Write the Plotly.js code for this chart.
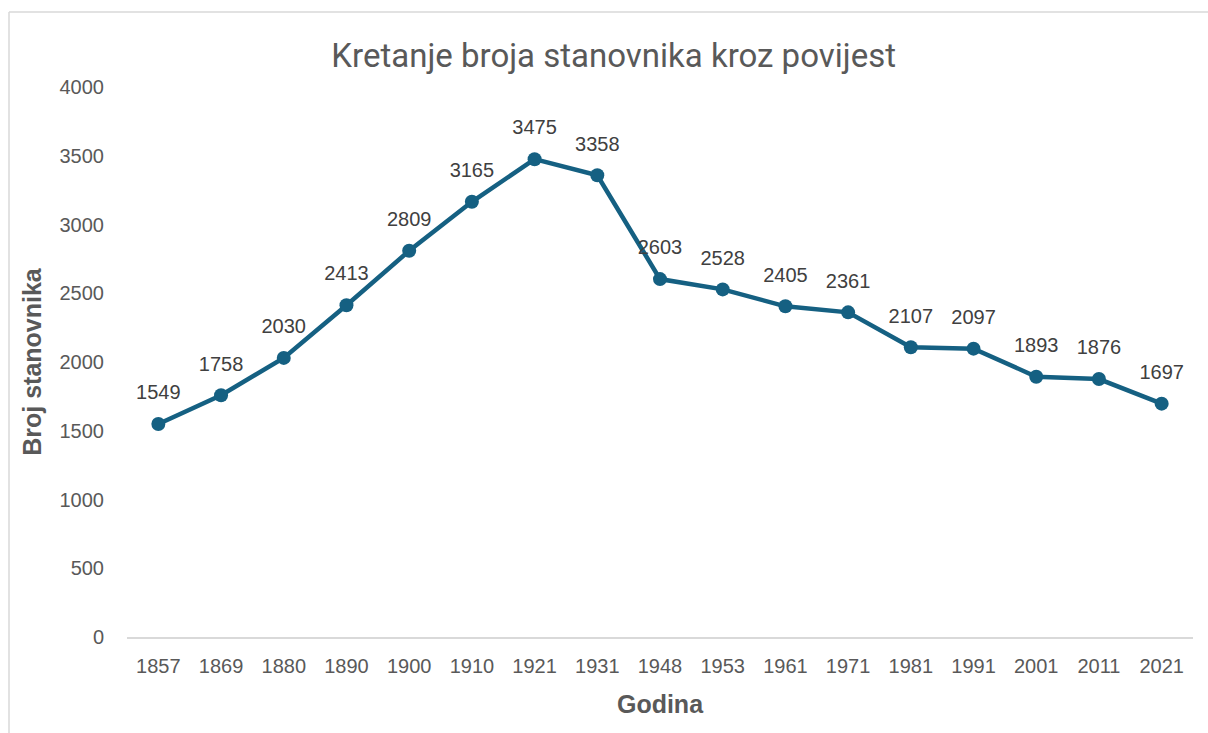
<!DOCTYPE html>
<html>
<head>
<meta charset="utf-8">
<script src="https://cdn.plot.ly/plotly-3.0.1.min.js"></script>
<style>html,body{margin:0;padding:0;background:#fff;}#chart{width:1208px;height:733px;}</style>
</head>
<body>
<div id="chart"></div>
<script>
const years = ["1857","1869","1880","1890","1900","1910","1921","1931","1948","1953","1961","1971","1981","1991","2001","2011","2021"];
const population = [1549,1758,2030,2413,2809,3165,3475,3358,2603,2528,2405,2361,2107,2097,1893,1876,1697];
const yTicks = [0,500,1000,1500,2000,2500,3000,3500,4000];

const lineTrace = {
  x: years,
  y: population,
  type: 'scatter',
  mode: 'lines+markers',
  line: {color: '#156082', width: 4.5},
  marker: {color: '#156082', size: 14},
  hoverinfo: 'x+y'
};

const labelTrace = {
  x: years,
  y: population,
  type: 'scatter',
  mode: 'markers+text',
  text: population.map(String),
  textposition: 'top center',
  textfont: {family: 'Liberation Sans, Arial, sans-serif', size: 20, color: '#404040'},
  marker: {color: 'rgba(0,0,0,0)', size: 30},
  cliponaxis: false,
  hoverinfo: 'skip'
};

const layout = {
  width: 1208, height: 733,
  margin: {l: 127, r: 15, t: 87, b: 96},
  paper_bgcolor: '#ffffff',
  plot_bgcolor: '#ffffff',
  showlegend: false,
  title: {
    text: 'Kretanje broja stanovnika kroz povijest',
    font: {family: 'Roboto, sans-serif', size: 33, color: '#595959'},
    x: 0.508, xanchor: 'center', y: 0.925, yanchor: 'middle'
  },
  xaxis: {
    type: 'category',
    range: [-0.5, 16.5],
    showgrid: false,
    zeroline: false,
    showline: true,
    linecolor: '#d9d9d9',
    linewidth: 1.5,
    ticks: '',
    tickfont: {family: 'Liberation Sans, Arial, sans-serif', size: 20, color: '#595959'},
    ticklabelstandoff: 10,
    title: {text: 'Godina', font: {family: 'Liberation Sans, Arial, sans-serif', size: 25, color: '#595959', weight: 'bold'}, standoff: 20}
  },
  yaxis: {
    range: [0, 4000],
    tickvals: yTicks,
    ticktext: yTicks.map(String),
    showgrid: false,
    zeroline: false,
    showline: false,
    ticks: '',
    tickfont: {family: 'Liberation Sans, Arial, sans-serif', size: 20, color: '#595959'},
    ticklabelstandoff: 22,
    title: {text: 'Broj stanovnika', font: {family: 'Liberation Sans, Arial, sans-serif', size: 25, color: '#595959', weight: 'bold'}, standoff: 10}
  },
  shapes: [
    {type: 'line', xref: 'paper', yref: 'paper', x0: (9-127)/1066, x1: 1.2, y0: (733-96-12)/550, y1: (733-96-12)/550, line: {color: '#d9d9d9', width: 1.5}},
    {type: 'line', xref: 'paper', yref: 'paper', x0: (9-127)/1066, x1: (9-127)/1066, y0: (733-96-12)/550, y1: -0.3, line: {color: '#d9d9d9', width: 1.5}}
  ]
};

Plotly.newPlot('chart', [lineTrace, labelTrace], layout, {displayModeBar: false, staticPlot: true});
</script>
</body>
</html>
